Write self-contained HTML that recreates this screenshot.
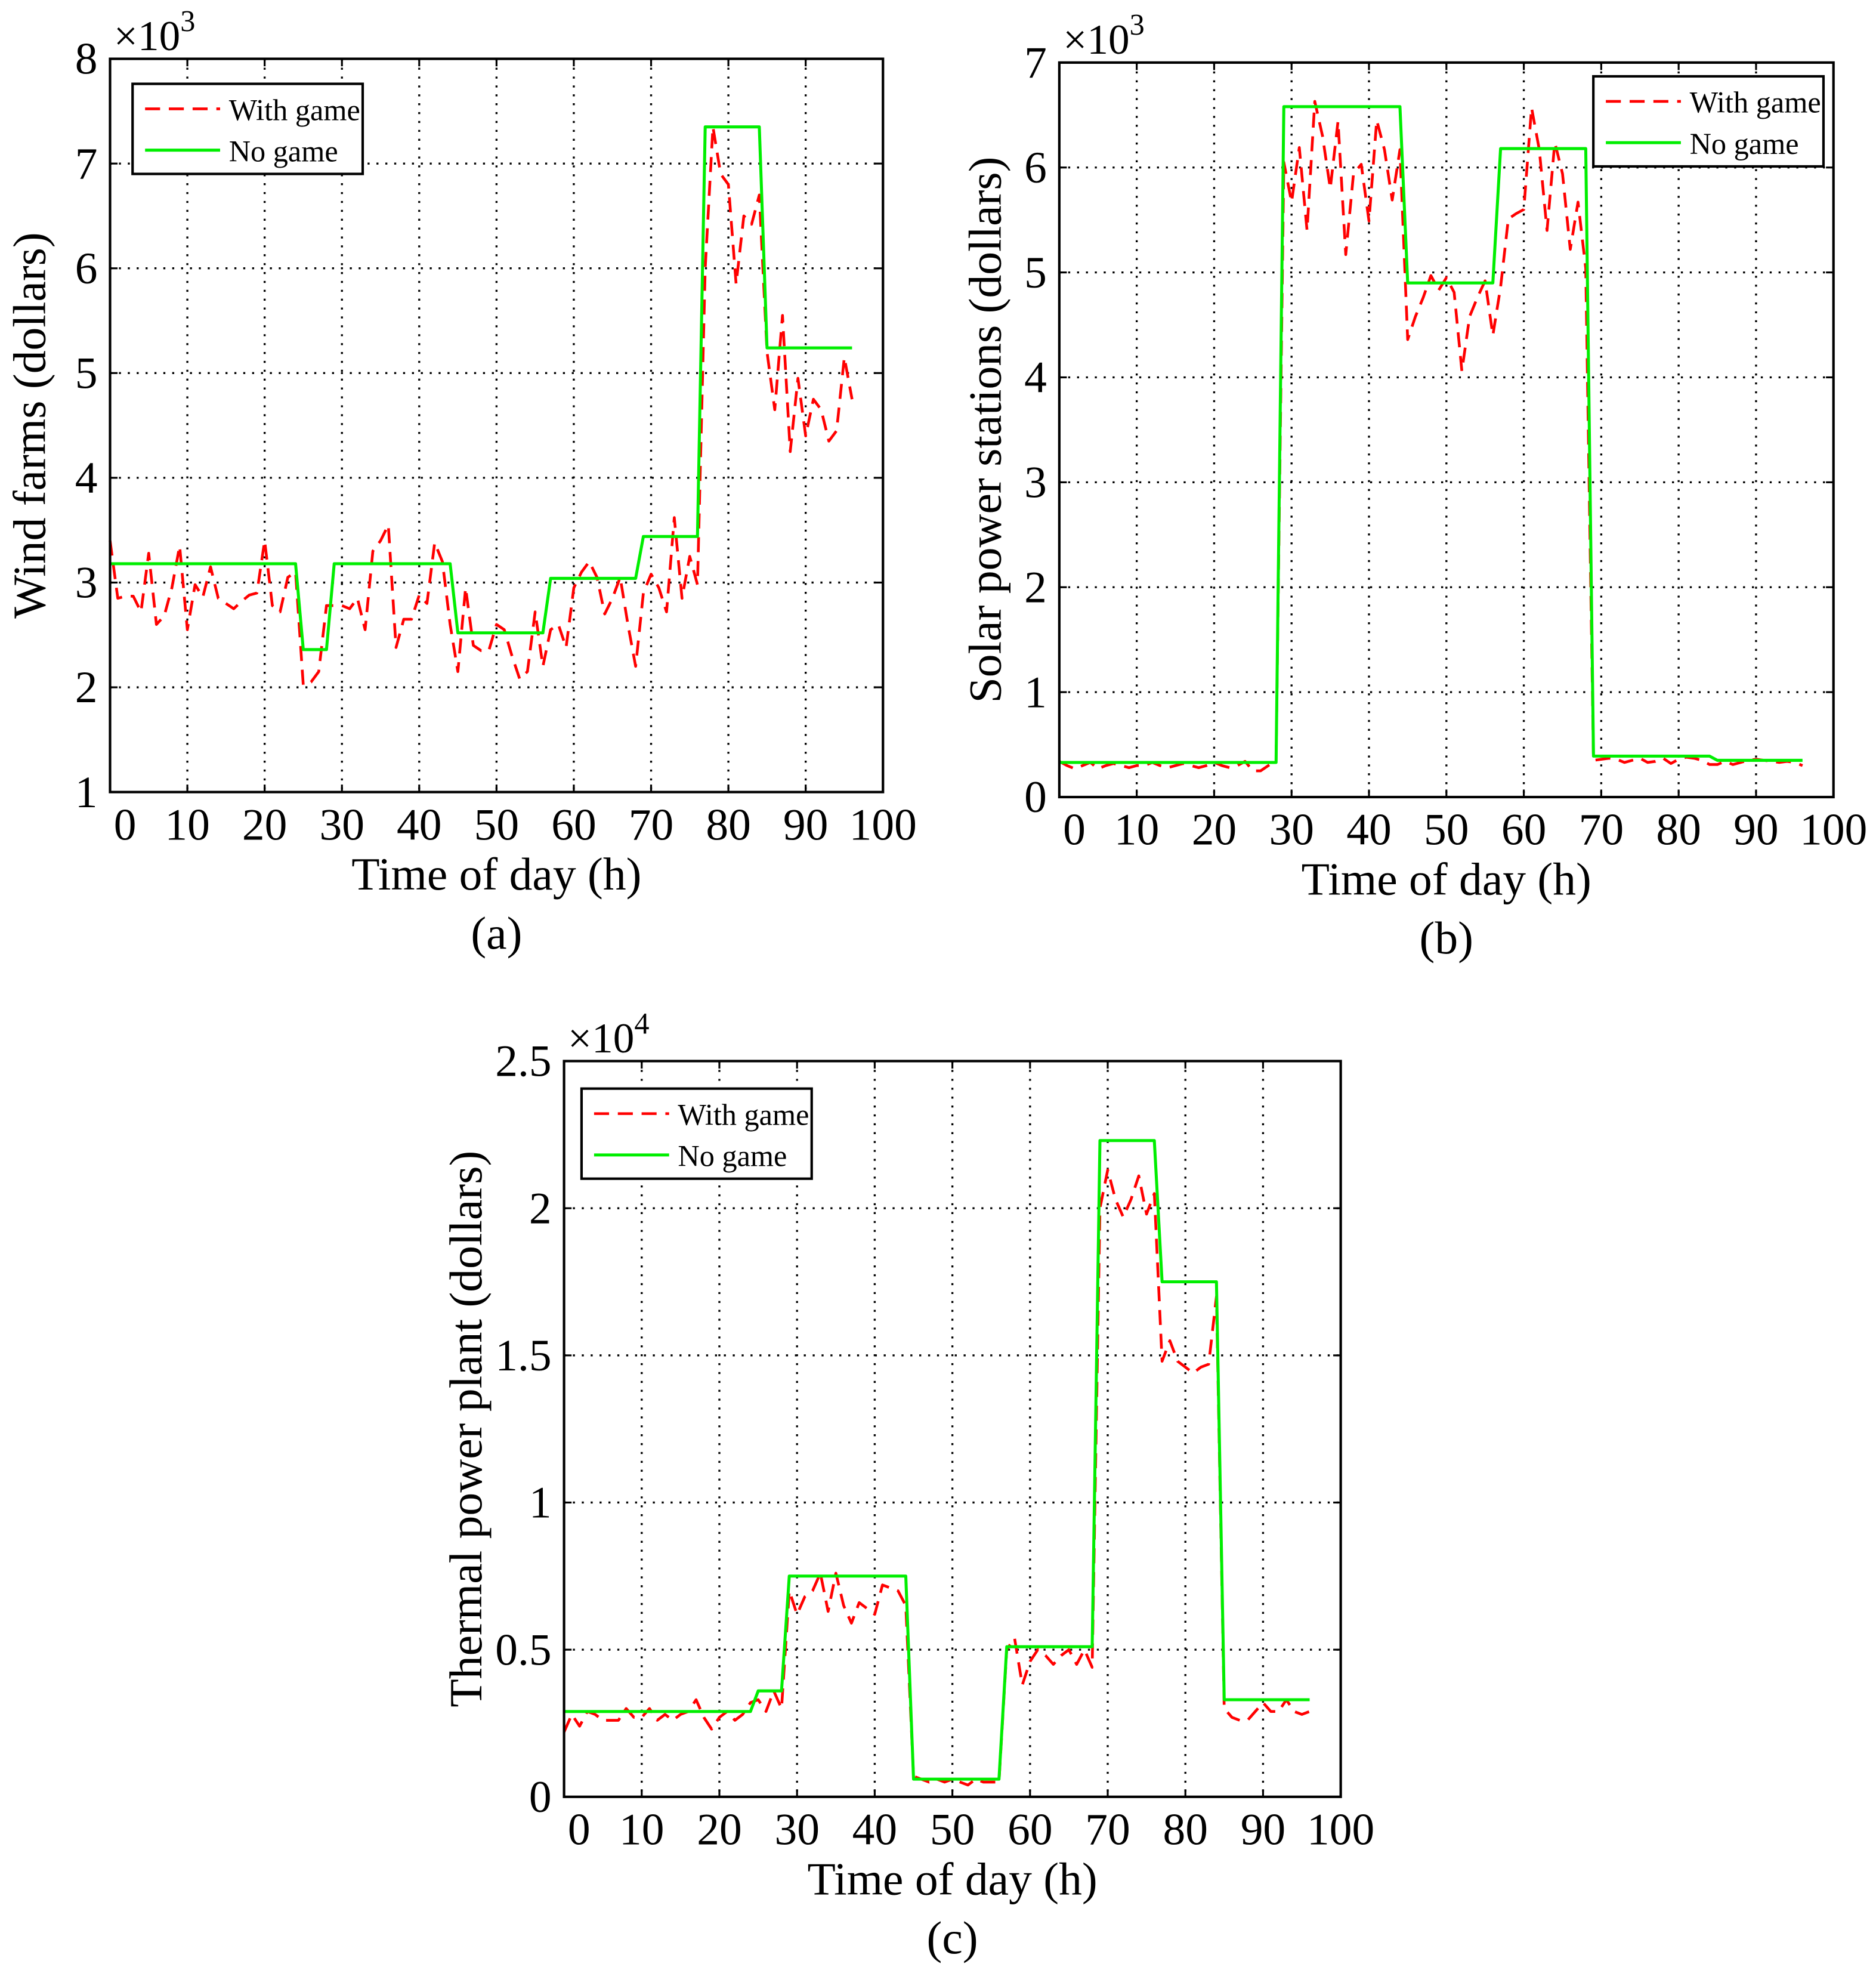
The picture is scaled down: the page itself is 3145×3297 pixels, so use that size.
<!DOCTYPE html>
<html><head><meta charset="utf-8">
<style>
html,body{margin:0;padding:0;background:#fff;}
svg{display:block;}
text{font-family:"Liberation Serif","Times New Roman",serif;fill:#000;}
</style></head>
<body>
<svg id="fig" xmlns="http://www.w3.org/2000/svg" width="3145" height="3297" viewBox="0 0 1500 1572" preserveAspectRatio="none"></svg>
<script>
// ---------- data ----------
const hours = Array.from({length:97},(_,i)=>i);
const xTicks = [0,10,20,30,40,50,60,70,80,90,100];
const windTicks = [1,2,3,4,5,6,7,8];
const solarTicks = [0,1,2,3,4,5,6,7];
const thermalTicks = [0,0.5,1,1.5,2,2.5];
const thermalTickLabels = ["0","0.5","1","1.5","2","2.5"];

const windNoGame = [
3.18,3.18,3.18,3.18,3.18,3.18,3.18,3.18,3.18,3.18,3.18,3.18,3.18,3.18,3.18,3.18,3.18,3.18,3.18,3.18,3.18,3.18,3.18,3.18,3.18,
2.36,2.36,2.36,2.36,
3.18,3.18,3.18,3.18,3.18,3.18,3.18,3.18,3.18,3.18,3.18,3.18,3.18,3.18,3.18,3.18,
2.52,2.52,2.52,2.52,2.52,2.52,2.52,2.52,2.52,2.52,2.52,2.52,
3.04,3.04,3.04,3.04,3.04,3.04,3.04,3.04,3.04,3.04,3.04,3.04,
3.44,3.44,3.44,3.44,3.44,3.44,3.44,3.44,
7.35,7.35,7.35,7.35,7.35,7.35,7.35,7.35,
5.24,5.24,5.24,5.24,5.24,5.24,5.24,5.24,5.24,5.24,5.24,5.24];
const windWithGame = [
3.4,2.85,2.87,2.87,2.72,3.28,2.6,2.68,2.95,3.35,2.55,2.98,2.86,3.15,2.85,2.8,2.75,2.82,2.88,2.9,
3.4,2.78,2.72,3.05,3.1,2.02,2.05,2.15,2.78,2.78,2.78,2.75,2.85,2.55,3.3,3.4,3.55,2.38,2.65,2.65,
2.88,2.8,3.38,3.2,2.6,2.15,2.95,2.4,2.35,2.35,2.6,2.55,2.3,2.08,2.15,2.72,2.2,2.55,2.6,2.38,
2.95,3.1,3.2,3.05,2.7,2.85,3.05,2.6,2.2,2.9,3.08,2.95,2.72,3.62,2.85,3.25,2.98,6.0,7.35,6.9,
6.8,5.85,6.5,6.42,6.7,5.2,4.65,5.55,4.25,4.95,4.4,4.75,4.65,4.35,4.45,5.15,4.75];

const solarNoGame = [
0.33,0.33,0.33,0.33,0.33,0.33,0.33,0.33,0.33,0.33,0.33,0.33,0.33,0.33,0.33,0.33,0.33,0.33,0.33,0.33,0.33,0.33,0.33,0.33,0.33,0.33,0.33,0.33,0.33,
6.58,6.58,6.58,6.58,6.58,6.58,6.58,6.58,6.58,6.58,6.58,6.58,6.58,6.58,6.58,6.58,
4.9,4.9,4.9,4.9,4.9,4.9,4.9,4.9,4.9,4.9,4.9,4.9,
6.18,6.18,6.18,6.18,6.18,6.18,6.18,6.18,6.18,6.18,6.18,6.18,
0.39,0.39,0.39,0.39,0.39,0.39,0.39,0.39,0.39,0.39,0.39,0.39,0.39,0.39,0.39,0.39,
0.35,0.35,0.35,0.35,0.35,0.35,0.35,0.35,0.35,0.35,0.35,0.35];
const solarWithGame = [
0.34,0.3,0.27,0.3,0.33,0.27,0.3,0.32,0.3,0.28,0.3,0.3,0.33,0.3,0.28,0.3,0.32,0.3,0.28,0.3,
0.33,0.3,0.28,0.3,0.34,0.25,0.25,0.3,0.35,6.05,5.67,6.19,5.4,6.63,6.3,5.8,6.44,5.17,5.94,6.03,
5.49,6.45,6.17,5.69,6.17,4.36,4.58,4.76,4.97,4.83,4.95,4.81,4.06,4.58,4.76,4.92,4.4,4.86,5.51,5.56,
5.6,6.57,6.17,5.4,6.24,5.94,5.22,5.67,5.04,0.35,0.36,0.37,0.36,0.33,0.35,0.37,0.33,0.34,0.37,0.32,
0.36,0.38,0.37,0.35,0.31,0.31,0.34,0.31,0.33,0.35,0.36,0.35,0.34,0.33,0.34,0.33,0.3];

const thermalNoGame = [
0.29,0.29,0.29,0.29,0.29,0.29,0.29,0.29,0.29,0.29,0.29,0.29,0.29,0.29,0.29,0.29,0.29,0.29,0.29,0.29,0.29,0.29,0.29,0.29,0.29,
0.36,0.36,0.36,0.36,
0.75,0.75,0.75,0.75,0.75,0.75,0.75,0.75,0.75,0.75,0.75,0.75,0.75,0.75,0.75,0.75,
0.06,0.06,0.06,0.06,0.06,0.06,0.06,0.06,0.06,0.06,0.06,0.06,
0.51,0.51,0.51,0.51,0.51,0.51,0.51,0.51,0.51,0.51,0.51,0.51,
2.23,2.23,2.23,2.23,2.23,2.23,2.23,2.23,
1.75,1.75,1.75,1.75,1.75,1.75,1.75,1.75,
0.33,0.33,0.33,0.33,0.33,0.33,0.33,0.33,0.33,0.33,0.33,0.33];
const thermalWithGame = [
0.22,0.28,0.24,0.29,0.28,0.26,0.26,0.26,0.3,0.27,0.27,0.3,0.26,0.28,0.26,0.28,0.29,0.33,0.27,0.23,
0.27,0.29,0.26,0.28,0.32,0.33,0.29,0.36,0.3,0.7,0.62,0.68,0.7,0.76,0.63,0.76,0.65,0.59,0.66,0.64,
0.62,0.72,0.71,0.7,0.65,0.07,0.06,0.05,0.06,0.05,0.06,0.05,0.04,0.06,0.05,0.05,0.05,0.5,0.54,0.38,
0.46,0.5,0.48,0.45,0.48,0.5,0.45,0.5,0.44,2.0,2.13,2.03,1.97,2.03,2.11,1.98,2.05,1.48,1.55,1.48,
1.46,1.44,1.46,1.47,1.7,0.3,0.27,0.26,0.26,0.29,0.32,0.29,0.29,0.33,0.29,0.28,0.29];

// ---------- drawing ----------
const NS = "http://www.w3.org/2000/svg";
const fig = document.getElementById('fig');
function mk(tag, attrs, parent){
  const e = document.createElementNS(NS, tag);
  for (const k in attrs) e.setAttribute(k, attrs[k]);
  (parent||fig).appendChild(e);
  return e;
}
function txt(s, attrs, parent){ const t = mk('text', attrs, parent); t.textContent = s; return t; }

function panel(cfg){
  const g = mk('g', {});
  
  
  const X = v => cfg.x0 + (v - 0) / 100 * (cfg.x1 - cfg.x0);
  const Y = v => cfg.y1 - (v - cfg.ymin) / (cfg.ymax - cfg.ymin) * (cfg.y1 - cfg.y0);
  xTicks.forEach((t,i)=>{
    if (i>0 && i<xTicks.length-1){
      const l = mk('line',{x1:X(t),x2:X(t),y1:cfg.y0,y2:cfg.y1,stroke:'#000','stroke-width':1.6,'stroke-dasharray':'1.6 5.5'},g);
      
      
    }
    const a = mk('line',{x1:X(t),x2:X(t),y1:cfg.y1,y2:cfg.y1-6,stroke:'#000','stroke-width':1.5},g);
    
    
    const b = mk('line',{x1:X(t),x2:X(t),y1:cfg.y0,y2:cfg.y0+6,stroke:'#000','stroke-width':1.5},g);
    
    
    const lx = t===0 ? X(t)+12 : X(t);
    const lab = txt(String(t),{x:lx,y:cfg.y1+38,'font-size':36,'text-anchor':'middle'},g);
    
    
  });
  cfg.yticks.forEach((t,i)=>{
    if (i>0 && i<cfg.yticks.length-1){
      const l = mk('line',{x1:cfg.x0,x2:cfg.x1,y1:Y(t),y2:Y(t),stroke:'#000','stroke-width':1.6,'stroke-dasharray':'1.6 5.5'},g);
      
      
    }
    const a = mk('line',{x1:cfg.x0,x2:cfg.x0+6,y1:Y(t),y2:Y(t),stroke:'#000','stroke-width':1.5},g);
    
    
    const b = mk('line',{x1:cfg.x1,x2:cfg.x1-6,y1:Y(t),y2:Y(t),stroke:'#000','stroke-width':1.5},g);
    
    
    const lab = txt(cfg.ylabels[i],{x:cfg.x0-10,y:Y(t)+12,'font-size':36,'text-anchor':'end'},g);
    
    
  });
  const ptsNo = hours.map((h,i)=>X(h).toFixed(2)+','+Y(cfg.noGame[i]).toFixed(2)).join(' ');
  const ptsW = hours.map((h,i)=>X(h).toFixed(2)+','+Y(cfg.withGame[i]).toFixed(2)).join(' ');
  const pw = mk('polyline',{points:ptsW,fill:'none',stroke:'#ff0000','stroke-width':2.2,'stroke-dasharray':'12 7','stroke-linejoin':'round'},g);
  
  
  const pn = mk('polyline',{points:ptsNo,fill:'none',stroke:'#00ee00','stroke-width':2.4,'stroke-linejoin':'round'},g);
  
  
  const box = mk('rect',{x:cfg.x0,y:cfg.y0,width:cfg.x1-cfg.x0,height:cfg.y1-cfg.y0,fill:'none',stroke:'#000','stroke-width':2},g);
  
  
  const ex = txt('\u00d710',{x:cfg.x0+3,y:cfg.y0-7,'font-size':34},g);
  
  
  const sup = mk('tspan',{dy:-15,'font-size':24},ex); sup.textContent = cfg.exp;
  const yl = txt(cfg.ylabel,{x:0,y:0,'font-size':37,'text-anchor':'middle',transform:`translate(${cfg.ylx},${(cfg.y0+cfg.y1)/2}) rotate(-90)`},g);
  
  
  const xl = txt('Time of day (h)',{x:(cfg.x0+cfg.x1)/2,y:cfg.y1+78,'font-size':37,'text-anchor':'middle'},g);
  
  
  const pl = txt(cfg.tag,{x:(cfg.x0+cfg.x1)/2,y:cfg.y1+125,'font-size':37,'text-anchor':'middle'},g);
  
  
  const L = cfg.leg;
  const lg = mk('g',{},g);
  
  
  const lr = mk('rect',{x:L[0],y:L[1],width:184,height:72,fill:'#fff',stroke:'#000','stroke-width':2},lg);
  
  
  const l1 = mk('line',{x1:L[0]+10,x2:L[0]+70,y1:L[1]+20,y2:L[1]+20,stroke:'#ff0000','stroke-width':2.2,'stroke-dasharray':'12 7'},lg);
  
  
  const t1 = txt('With game',{x:L[0]+77,y:L[1]+29,'font-size':24},lg);
  
  
  const l2 = mk('line',{x1:L[0]+10,x2:L[0]+70,y1:L[1]+53,y2:L[1]+53,stroke:'#00ee00','stroke-width':2.4},lg);
  
  
  const t2 = txt('No game',{x:L[0]+77,y:L[1]+62,'font-size':24},lg);
  
  
}

panel({name:'wind-farms-chart',x0:88,x1:706,y0:47,y1:633,ymin:1,ymax:8,yticks:windTicks,ylabels:windTicks.map(String),
  noGame:windNoGame,withGame:windWithGame,exp:'3',ylabel:'Wind farms (dollars)',ylx:36,tag:'(a)',leg:[106,67]});
panel({name:'solar-stations-chart',x0:847,x1:1466,y0:50,y1:637,ymin:0,ymax:7,yticks:solarTicks,ylabels:solarTicks.map(String),
  noGame:solarNoGame,withGame:solarWithGame,exp:'3',ylabel:'Solar power stations (dollars)',ylx:800,tag:'(b)',leg:[1274,61]});
panel({name:'thermal-plant-chart',x0:451,x1:1072,y0:848,y1:1436,ymin:0,ymax:2.5,yticks:thermalTicks,ylabels:thermalTickLabels,
  noGame:thermalNoGame,withGame:thermalWithGame,exp:'4',ylabel:'Thermal power plant (dollars)',ylx:385,tag:'(c)',leg:[465,870]});
</script>
</body></html>
